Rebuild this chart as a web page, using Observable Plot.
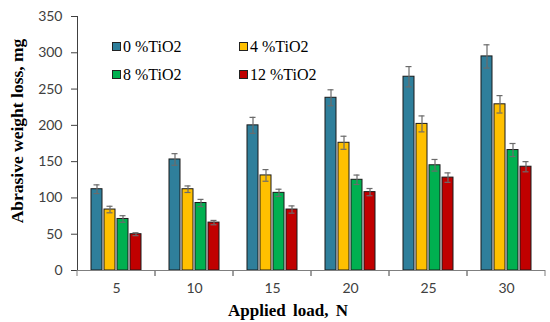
<!DOCTYPE html>
<html>
<head>
<meta charset="utf-8">
<script src="https://cdn.jsdelivr.net/npm/d3@7"></script>
<script src="https://cdn.jsdelivr.net/npm/@observablehq/plot@0.6"></script>
<style>
  html, body { margin: 0; padding: 0; background: #fff; }
  #chart { position: relative; width: 550px; height: 322px; }
  .title { position: absolute; font-family: "Liberation Serif", "Times New Roman", serif; font-weight: bold; font-size: 17px; color: #000; white-space: nowrap; }
  #ytitle { left: 17px; top: 131px; font-size: 17.5px; transform: translate(-50%, -50%) rotate(-90deg); }
  #xtitle { left: 288px; top: 311px; transform: translate(-50%, -50%); word-spacing: 3px; }
  #legend { position: absolute; left: 112px; top: 37px; display: grid; grid-template-columns: 127px 100px; row-gap: 9px;
            font-family: "Liberation Serif", "Times New Roman", serif; font-size: 16px; color: #000; }
  #legend .item { display: flex; align-items: center; height: 19px; white-space: nowrap; }
  #legend .sw { width: 7px; height: 7px; border: 1px solid #222; margin-right: 2px; }
</style>
</head>
<body>
<div id="chart"></div>
<script>
// Applied load groups (N) and TiO2 content series
const loads = ["5", "10", "15", "20", "25", "30"];
const series = ["0 %TiO2", "4 %TiO2", "8 %TiO2", "12 %TiO2"];
const colors = ["#2F7F9B", "#FFC000", "#00B050", "#C00000"];

// Mean abrasive weight loss (mg) per load, one array per series
const loss0 = [112, 153, 200, 238, 267, 295];
const loss4 = [84, 112, 131, 176, 202, 229];
const loss8 = [71, 93, 107, 125, 145, 166];
const loss12 = [50, 66, 84, 108, 128, 143];

// Error bar half-widths (mg)
const err0 = [6, 8, 11, 11, 14, 16];
const err4 = [4.5, 4.5, 8, 9, 11, 12];
const err8 = [4.5, 5, 5, 6.5, 8, 9];
const err12 = [2, 3, 5, 5, 6.5, 7];

const yTicks = [0, 50, 100, 150, 200, 250, 300, 350];

const values = [loss0, loss4, loss8, loss12];
const errors = [err0, err4, err8, err12];
const rows = [];
loads.forEach((load, i) => {
  series.forEach((s, j) => {
    rows.push({load, series: s, value: values[j][i], err: errors[j][i]});
  });
});

// Category-axis tick marks at the edges of each load group
const groupEdges = (index, scales) => {
  const [x0, x1] = scales.x.range();
  const y0 = scales.y(0);
  const g = d3.create("svg:g").attr("stroke", "#7f7f7f").attr("stroke-width", 1);
  for (const x of [x0, x1]) {
    g.append("line").attr("x1", x).attr("x2", x).attr("y1", y0).attr("y2", y0 + 6);
  }
  return g.node();
};

const plot = Plot.plot({
  width: 550,
  height: 322,
  marginLeft: 76,
  marginRight: 5,
  marginTop: 16,
  marginBottom: 52,
  style: {fontFamily: "Lato, 'Open Sans', sans-serif", fontSize: "14px", color: "#404040", background: "#fff"},
  fx: {domain: loads, padding: 0, tickSize: 0, tickPadding: 13, label: null},
  x: {domain: series, axis: null, paddingInner: 0.12, paddingOuter: 0.95},
  y: {domain: [0, 350], ticks: yTicks, tickSize: 6, tickPadding: 9, line: true, label: null},
  color: {domain: series, range: colors},
  marks: [
    Plot.barY(rows, {fx: "load", x: "series", y: "value", fill: "series", stroke: "#1a1a1a", strokeWidth: 1}),
    Plot.ruleX(rows, {fx: "load", x: "series", y1: d => d.value - d.err, y2: d => d.value + d.err, stroke: "#6b6b6b", strokeWidth: 1.2}),
    Plot.tickY(rows, {fx: "load", x: "series", y: d => d.value + d.err, stroke: "#6b6b6b", strokeWidth: 1.2, insetLeft: 2.5, insetRight: 2.5}),
    Plot.tickY(rows, {fx: "load", x: "series", y: d => d.value - d.err, stroke: "#6b6b6b", strokeWidth: 1.2, insetLeft: 2.5, insetRight: 2.5}),
    Plot.ruleY([0], {stroke: "#7f7f7f", strokeWidth: 1}),
    groupEdges
  ]
});

const chart = document.getElementById("chart");
chart.appendChild(plot);

// Axis titles
const yt = document.createElement("div");
yt.className = "title"; yt.id = "ytitle"; yt.textContent = "Abrasive weight loss, mg";
chart.appendChild(yt);
const xt = document.createElement("div");
xt.className = "title"; xt.id = "xtitle"; xt.textContent = "Applied load, N";
chart.appendChild(xt);

// Legend, two columns inside the plot area
const legend = document.createElement("div");
legend.id = "legend";
series.forEach((s, j) => {
  const item = document.createElement("div");
  item.className = "item";
  const sw = document.createElement("span");
  sw.className = "sw";
  sw.style.background = colors[j];
  const label = document.createElement("span");
  label.textContent = s;
  item.appendChild(sw);
  item.appendChild(label);
  legend.appendChild(item);
});
chart.appendChild(legend);
</script>
</body>
</html>
